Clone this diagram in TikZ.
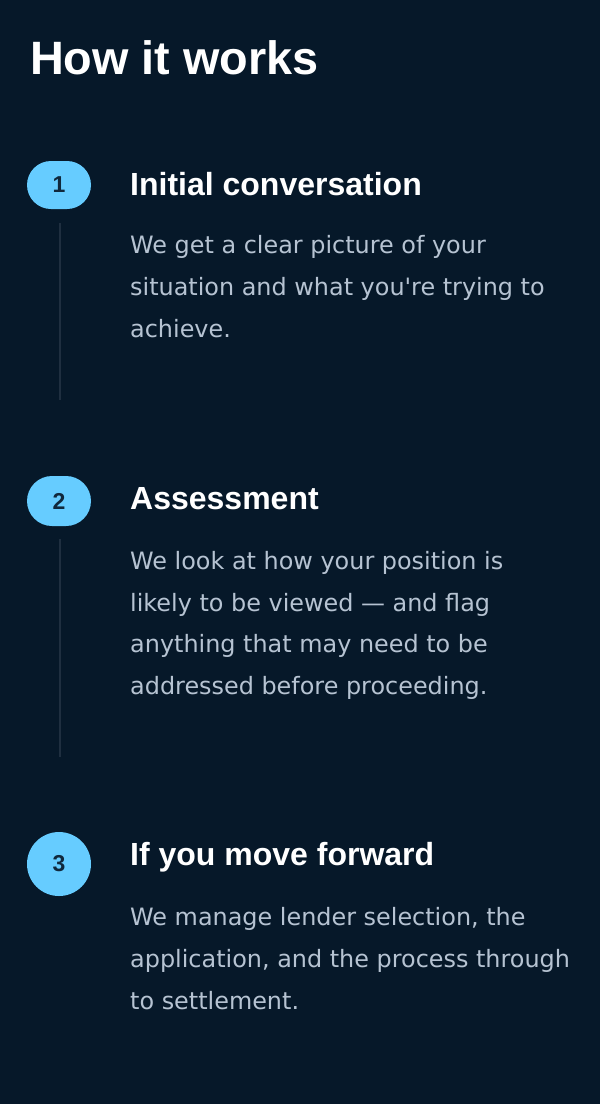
\documentclass[tikz,border=0pt]{standalone}
\usepackage{fontspec}
\setmainfont{DejaVu Sans}
\newfontfamily\headfont{Liberation Sans}
\usepackage{xcolor}
\usetikzlibrary{positioning,calc}

\definecolor{pagebg}{HTML}{061829}
\definecolor{badgeblue}{HTML}{66CCFF}
\definecolor{badgeink}{HTML}{10283C}
\definecolor{bodygrey}{HTML}{B6C3D2}
\definecolor{railgrey}{HTML}{1F2F40}

\tikzset{
  badge/.style={fill=badgeblue, rounded corners=24pt, minimum width=64pt,
    minimum height=48pt, inner sep=0pt, text=badgeink,
    font=\headfont\bfseries\fontsize{23}{26}\selectfont},
  headtxt/.style={anchor=base west, inner sep=0pt, text=white,
    font=\headfont\bfseries\fontsize{32}{36}\selectfont},
  bodytxt/.style={anchor=base west, inner sep=0pt, text=bodygrey,
    font=\fontsize{23.9}{28}\selectfont},
  rail/.style={draw=railgrey, line width=2pt},
}

\begin{document}
\begin{tikzpicture}[x=1pt,y=-1pt]
    \fill[pagebg] (0,0) rectangle (600,1104);
    \useasboundingbox (0,0) rectangle (600,1104);

    \node[anchor=base west, inner sep=0pt, text=white,
      font=\headfont\bfseries\fontsize{46.8}{52}\selectfont] (title) at (30,74) {How it works};

    % Step 1
    \node[badge] (b1) at (59,185) {1};
    \node[headtxt] (h1) at (130,195) {Initial conversation};
    \foreach \ln [count=\i from 0] in {We get a clear picture of your,
        situation and what you\textquotesingle re trying to, achieve.}
      \node[bodytxt] (t1-\i) at (130,253+42*\i) {\ln};
    \coordinate (e1) at (60,400);
    \draw[rail] ([yshift=-14pt]b1.south -| e1) -- (e1);

    % Step 2
    \node[badge, minimum height=50pt, rounded corners=25pt] (b2) at (59,501) {2};
    \node[headtxt] (h2) at (130,509) {Assessment};
    \foreach \ln [count=\i from 0] in {We look at how your position is,
        likely to be viewed — and flag, anything that may need to be,
        addressed before proceeding.}
      \node[bodytxt] (t2-\i) at (130,569.5+41.5*\i) {\ln};
    \coordinate (e2) at (60,757);
    \draw[rail] ([yshift=-13pt]b2.south -| e2) -- (e2);

    % Step 3
    \node[badge, circle, minimum size=64pt] (b3) at (59,864) {3};
    \node[headtxt] (h3) at (130,865) {If you move forward};
    \foreach \ln [count=\i from 0] in {{We manage lender selection, the},
        {application, and the process through}, to settlement.}
      \node[bodytxt] (t3-\i) at (130,925+42*\i) {\ln};
\end{tikzpicture}
\end{document}
